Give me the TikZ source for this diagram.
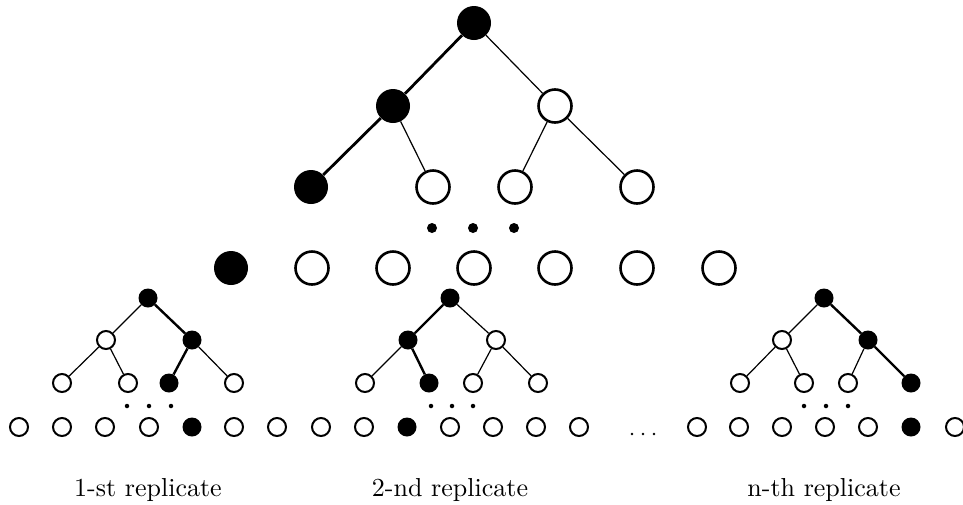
\documentclass[tikz,border=0pt]{standalone}
\usepackage{fontspec}
\newfontfamily\lblfont{lmroman10-regular}[Extension=.otf]
\begin{document}
\begin{tikzpicture}[x=1pt,y=-1pt,
  bigfill/.style={circle,fill=black,inner sep=0pt,minimum size=34pt},
  bigopen/.style={circle,draw=black,line width=2.6pt,fill=white,inner sep=0pt,minimum size=33pt},
  smallfill/.style={circle,fill=black,inner sep=0pt,minimum size=19pt},
  smallopen/.style={circle,draw=black,line width=2pt,fill=white,inner sep=0pt,minimum size=18pt},
  bigdot/.style={circle,fill=black,inner sep=0pt,minimum size=10pt},
  smalldot/.style={circle,fill=black,inner sep=0pt,minimum size=4.5pt},
  tinydot/.style={circle,fill=black,inner sep=0pt,minimum size=2.6pt},
  thickedge/.style={line width=2.8pt},
  thinedge/.style={line width=1.2pt},
  sthick/.style={line width=2.4pt},
  sthin/.style={line width=1.2pt},
  lbl/.style={anchor=base,inner sep=0pt,font=\lblfont\fontsize{26}{30}\selectfont}]
\useasboundingbox (0,0) rectangle (963,504);

% ---------- top tree ----------
\node[bigfill] (T) at (474,23) {};
\node[bigfill] (A1) at (393,106) {};
\node[bigopen] (A2) at (555,106) {};
\node[bigfill] (B1) at (311,187) {};
\node[bigopen] (B2) at (433,187) {};
\node[bigopen] (B3) at (515,187) {};
\node[bigopen] (B4) at (637,187) {};
\node[bigdot] (D1) at (432,228) {};
\node[bigdot] (D2) at (473,228) {};
\node[bigdot] (D3) at (514,228) {};
\node[bigfill] (C1) at (231,268) {};
\node[bigopen] (C2) at (312,268) {};
\node[bigopen] (C3) at (393,268) {};
\node[bigopen] (C4) at (474,268) {};
\node[bigopen] (C5) at (555,268) {};
\node[bigopen] (C6) at (637,268) {};
\node[bigopen] (C7) at (719,268) {};
\draw[thickedge] (T) -- (A1);
\draw[thinedge] (T) -- (A2);
\draw[thickedge] (A1) -- (B1);
\draw[thinedge] (A1) -- (B2);
\draw[thinedge] (A2) -- (B3);
\draw[thinedge] (A2) -- (B4);

% ---------- replicate 1 ----------
\node[smallfill] (pR) at (148,298) {};
\node[smallopen] (pL1) at (106,340) {};
\node[smallfill] (pL2) at (192,340) {};
\node[smallopen] (pM1) at (62,383) {};
\node[smallopen] (pM2) at (128,383) {};
\node[smallfill] (pM3) at (169,383) {};
\node[smallopen] (pM4) at (234,383) {};
\node[smalldot] (pd1) at (127,406) {};
\node[smalldot] (pd2) at (149,406) {};
\node[smalldot] (pd3) at (171,406) {};
\draw[sthin] (pR) -- (pL1);
\draw[sthick] (pR) -- (pL2);
\draw[sthin] (pL1) -- (pM1);
\draw[sthin] (pL1) -- (pM2);
\draw[sthick] (pL2) -- (pM3);
\draw[sthin] (pL2) -- (pM4);

% ---------- replicate 2 ----------
\node[smallfill] (qR) at (450,298) {};
\node[smallfill] (qL1) at (408,340) {};
\node[smallopen] (qL2) at (496,340) {};
\node[smallopen] (qM1) at (365,383) {};
\node[smallfill] (qM2) at (429,383) {};
\node[smallopen] (qM3) at (473,383) {};
\node[smallopen] (qM4) at (538,383) {};
\node[smalldot] (qd1) at (431,406) {};
\node[smalldot] (qd2) at (452,406) {};
\node[smalldot] (qd3) at (473,406) {};
\draw[sthick] (qR) -- (qL1);
\draw[sthin] (qR) -- (qL2);
\draw[sthin] (qL1) -- (qM1);
\draw[sthick] (qL1) -- (qM2);
\draw[sthin] (qL2) -- (qM3);
\draw[sthin] (qL2) -- (qM4);

% ---------- replicate n ----------
\node[smallfill] (sR) at (824,298) {};
\node[smallopen] (sL1) at (782,340) {};
\node[smallfill] (sL2) at (868,340) {};
\node[smallopen] (sM1) at (740,383) {};
\node[smallopen] (sM2) at (804,383) {};
\node[smallopen] (sM3) at (848,383) {};
\node[smallfill] (sM4) at (911,383) {};
\node[smalldot] (sd1) at (804,406) {};
\node[smalldot] (sd2) at (826,406) {};
\node[smalldot] (sd3) at (848,406) {};
\draw[sthin] (sR) -- (sL1);
\draw[sthick] (sR) -- (sL2);
\draw[sthin] (sL1) -- (sM1);
\draw[sthin] (sL1) -- (sM2);
\draw[sthin] (sL2) -- (sM3);
\draw[sthick] (sL2) -- (sM4);

% ---------- bottom row ----------
\node[smallopen] (b1) at (19,427) {};
\node[smallopen] (b2) at (62,427) {};
\node[smallopen] (b3) at (105,427) {};
\node[smallopen] (b4) at (149,427) {};
\node[smallfill] (b5) at (192,427) {};
\node[smallopen] (b6) at (234,427) {};
\node[smallopen] (b7) at (277,427) {};
\node[smallopen] (b8) at (321,427) {};
\node[smallopen] (b9) at (364,427) {};
\node[smallfill] (b10) at (407,427) {};
\node[smallopen] (b11) at (450,427) {};
\node[smallopen] (b12) at (493,427) {};
\node[smallopen] (b13) at (536,427) {};
\node[smallopen] (b14) at (579,427) {};
\node[tinydot] (e1) at (632,434) {};
\node[tinydot] (e2) at (643,434) {};
\node[tinydot] (e3) at (654,434) {};
\node[smallopen] (b15) at (697,427) {};
\node[smallopen] (b16) at (739,427) {};
\node[smallopen] (b17) at (782,427) {};
\node[smallopen] (b18) at (825,427) {};
\node[smallopen] (b19) at (868,427) {};
\node[smallfill] (b20) at (911,427) {};
\node[smallopen] (b21) at (955,427) {};

% ---------- labels ----------
\node[lbl] (l1) at (148,496) {1-st replicate};
\node[lbl] (l2) at (450,496) {2-nd replicate};
\node[lbl] (l3) at (824,496) {n-th replicate};
\end{tikzpicture}
\end{document}
